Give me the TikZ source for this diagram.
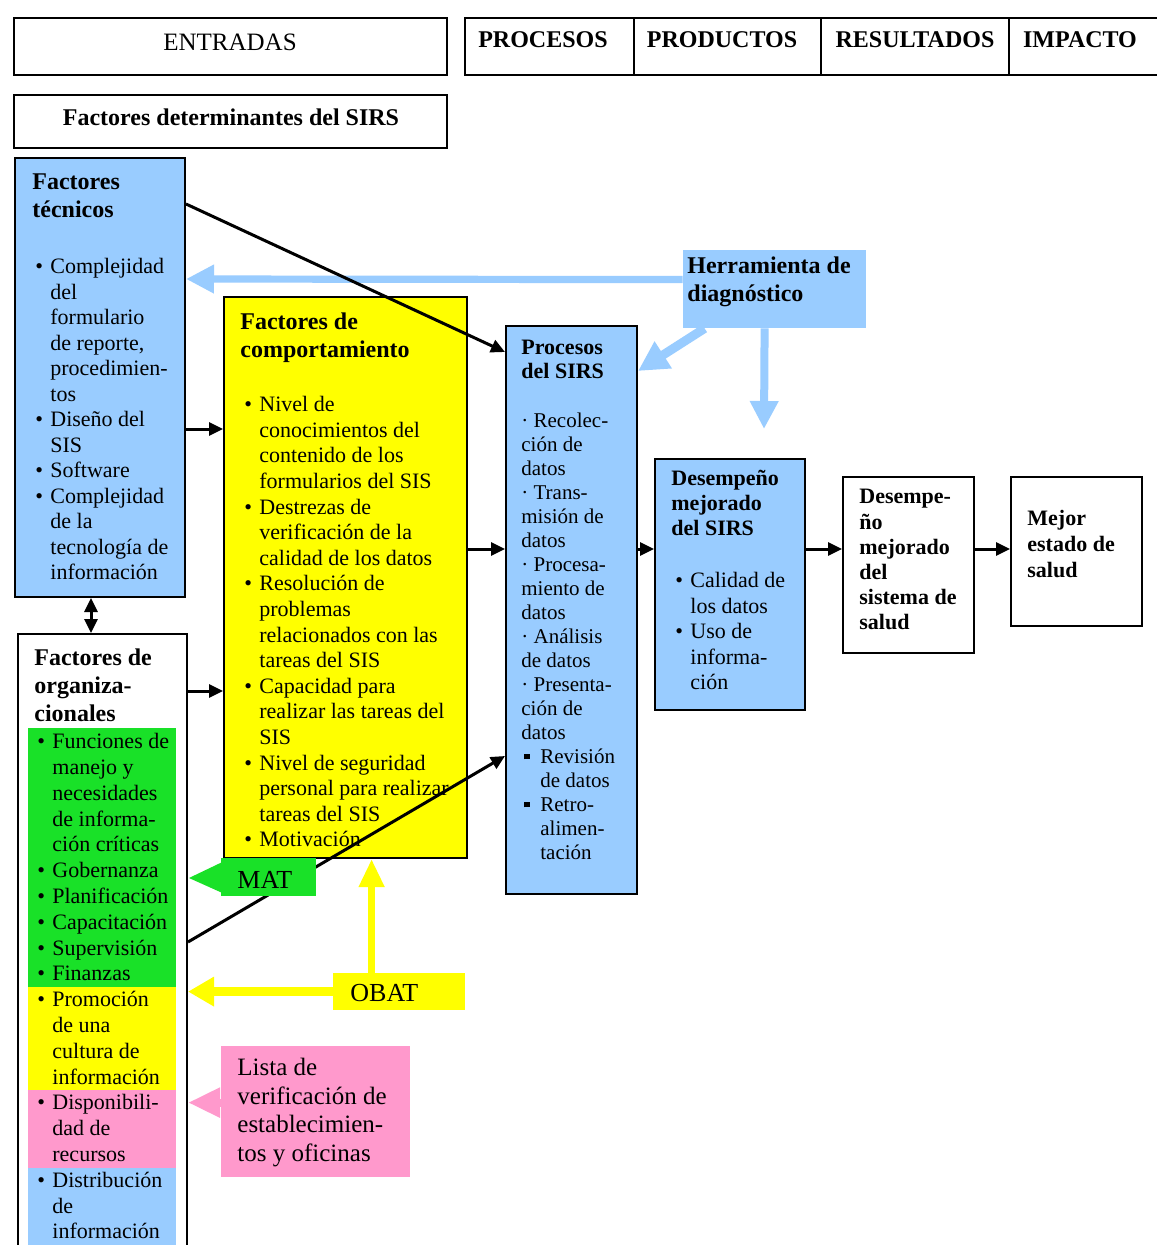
\documentclass[tikz,border=0pt]{standalone}
\usepackage{fontspec}
\setmainfont{Liberation Serif}
\usetikzlibrary{arrows.meta,fit,calc}
\definecolor{lblue}{HTML}{99CCFF}
\definecolor{vgreen}{RGB}{25,225,40}
\definecolor{vyellow}{HTML}{FFFF00}
\definecolor{vpink}{HTML}{FF99CC}
\newcommand\bl{\makebox[7.5pt][l]{\textbullet}}
\newcommand\ind{\hspace*{7.5pt}}
\newcommand\sqb{\hspace*{1.5pt}\makebox[8pt][l]{\raisebox{0.22em}{\rule{2.6pt}{2.6pt}}}}
\newcommand\sqind{\hspace*{9.5pt}}
\begin{document}
\begin{tikzpicture}[x=0.5pt,y=-0.5pt,
  box/.style={draw=black,line width=1pt,inner sep=0pt},
  flat/.style={draw=none,inner sep=0pt},
  txt/.style={anchor=north west,inner sep=0pt,align=left},
  hdr/.style={inner sep=0pt,font=\fontsize{12}{14}\selectfont\bfseries},
  ttl/.style={txt,font=\fontsize{12}{14}\selectfont\bfseries},
  ttls/.style={txt,font=\fontsize{11}{12.5}\selectfont\bfseries},
  body/.style={txt,font=\fontsize{11}{12.75}\selectfont},
  blk/.style={line width=1.5pt,-{Triangle[length=7pt,width=6.5pt]}},
  fat/.style={line width=3.6pt,-{Triangle[length=14pt,width=13.5pt]}},
]
\useasboundingbox (0,0) rectangle (1156,1245);
\fill[white] (0,0) rectangle (1156,1245);

% header row
\node[box,fit={(14,18) (447,75)}] (entr) {};
\node[hdr,font=\fontsize{12.5}{14}\selectfont] (entrT) at (230,42) {ENTRADAS};
\node[box,fit={(465,18) (634,75)}] (procH) {};
\node[box,fit={(634,18) (821,75)}] (prodH) {};
\node[box,fit={(821,18) (1009,75)}] (resH) {};
\node[box,fit={(1009,18) (1170,75)}] (impH) {};
\node[hdr] (procHT) at (543,40) {PROCESOS};
\node[hdr] (prodHT) at (722,40) {PRODUCTOS};
\node[hdr] (resHT) at (915,40) {RESULTADOS};
\node[hdr] (impHT) at (1080,40) {IMPACTO};

\node[box,fit={(14,95) (447,148)}] (det) {};
\node[hdr] (detT) at (231,117) {Factores determinantes del SIRS};

% Factores tecnicos
\node[box,fill=lblue,fit={(15,158) (185,597)}] (tec) {};
\node[ttl] (tecT) at (32,173) {Factores\\técnicos};
\node[body] (tecB) at (35,258) {\bl Complejidad\\
\ind del\\
\ind formulario\\
\ind de reporte,\\
\ind procedimien-\\
\ind tos\\
\bl Diseño del\\
\ind SIS\\
\bl Software\\
\bl Complejidad\\
\ind de la\\
\ind tecnología de\\
\ind información};

% Factores de comportamiento
\node[box,fill=vyellow,fit={(224,297) (467,858)}] (comp) {};
\node[ttl] (compT) at (240,312) {Factores de\\comportamiento};
\node[body,font=\fontsize{11}{12.8}\selectfont] (compB) at (244,396) {\bl Nivel de\\
\ind conocimientos del\\
\ind contenido de los\\
\ind formularios del SIS\\
\bl Destrezas de\\
\ind verificación de la\\
\ind calidad de los datos\\
\bl Resolución de\\
\ind problemas\\
\ind relacionados con las\\
\ind tareas del SIS\\
\bl Capacidad para\\
\ind realizar las tareas del\\
\ind SIS\\
\bl Nivel de seguridad\\
\ind personal para realizar\\
\ind tareas del SIS\\
\bl Motivación};

% Procesos del SIRS
\node[box,fill=lblue,fit={(506,326) (637,894)}] (proc) {};
\node[ttls,font=\fontsize{11}{12}\selectfont\bfseries] (procT) at (521,340) {Procesos\\del SIRS};
\node[body,font=\fontsize{10.5}{12}\selectfont] (procB) at (521,413) {· Recolec-\\
ción de\\
datos\\
· Trans-\\
misión de\\
datos\\
· Procesa-\\
miento de\\
datos\\
· Análisis\\
de datos\\
· Presenta-\\
ción de\\
datos\\
\sqb Revisión\\
\sqind de datos\\
\sqb Retro-\\
\sqind alimen-\\
\sqind tación};

% Desempeno mejorado del SIRS
\node[box,fill=lblue,fit={(655,459) (805,710)}] (desS) {};
\node[ttls] (desST) at (671,470) {Desempeño\\mejorado\\del SIRS};
\node[body] (desSB) at (675,572) {\bl Calidad de\\
\ind los datos\\
\bl Uso de\\
\ind informa-\\
\ind ción};

% Desempeno mejorado del sistema de salud
\node[box,fit={(843,477) (974,653)}] (desH) {};
\node[ttls,font=\fontsize{11}{12.6}\selectfont\bfseries] (desHT) at (859,489) {Desempe-\\ño\\mejorado\\del\\sistema de\\salud};

% Mejor estado de salud
\node[box,fit={(1011,477) (1142,626)}] (mej) {};
\node[ttls,font=\fontsize{11}{13}\selectfont\bfseries] (mejT) at (1027,510) {Mejor\\estado de\\salud};

% Herramienta de diagnostico
\node[flat,fill=lblue,fit={(683,250) (866,328)}] (herr) {};
\node[ttl] (herrT) at (687,256) {Herramienta de\\diagnóstico};

% Factores organizacionales
\node[box,fill=white,fit={(18,634) (187,1270)}] (org) {};
\node[flat,fill=vgreen,fit={(28,728) (176,987)}] (orgG) {};
\node[flat,fill=vyellow,fit={(28,987) (176,1090)}] (orgY) {};
\node[flat,fill=vpink,fit={(28,1090) (176,1168)}] (orgP) {};
\node[flat,fill=lblue,fit={(28,1168) (176,1262)}] (orgB) {};
\node[ttl] (orgT) at (34,648) {Factores de\\organiza-\\cionales};
\node[body,font=\fontsize{11}{12.9}\selectfont] (orgBd) at (37,733) {\bl Funciones de\\
\ind manejo y\\
\ind necesidades\\
\ind de informa-\\
\ind ción críticas\\
\bl Gobernanza\\
\bl Planificación\\
\bl Capacitación\\
\bl Supervisión\\
\bl Finanzas\\
\bl Promoción\\
\ind de una\\
\ind cultura de\\
\ind información\\
\bl Disponibili-\\
\ind dad de\\
\ind recursos\\
\bl Distribución\\
\ind de\\
\ind información};

% OBAT and Lista
\node[flat,fill=vyellow,fit={(333,973) (465,1010)}] (obat) {};
\node[anchor=west,inner sep=0pt,font=\fontsize{13}{15}\selectfont] (obatT) at (350,993) {OBAT};
\node[flat,fill=vpink,fit={(221,1046) (410,1177)}] (lista) {};
\node[txt,font=\fontsize{12.5}{14.3}\selectfont] (listaT) at (237,1058) {Lista de\\verificación de\\establecimien-\\tos y oficinas};

% light blue arrows
\draw[fat,lblue] ([yshift=-15pt]herr.north west) -- ([yshift=-61pt]tec.north east);
\draw[fat,lblue,line width=4.5pt,-{Triangle[length=15pt,width=15pt]}] ([xshift=11pt]herr.south west) -- ([yshift=-23pt]proc.north east);
\coordinate (hdown) at ([xshift=41pt]herr.south west);
\draw[fat,lblue,line width=4pt] (hdown) -- ([xshift=55pt,yshift=14.5pt]desS.north west);

% black arrows
\draw[blk] ([yshift=-23.5pt]tec.north east) -- ([yshift=-13.5pt]proc.north west);
\draw[blk] ([yshift=-136pt]tec.north east) -- ([yshift=-66.5pt]comp.north west);
\draw[blk] ([yshift=-29pt]org.north east) -- ([yshift=-197.5pt]comp.north west);
\draw[blk] ([yshift=-126.5pt]comp.north east) -- ([yshift=-112pt]proc.north west);
\draw[blk] ([yshift=-112pt]proc.north east) -- ([yshift=-45.5pt]desS.north west);
\draw[blk] ([yshift=-45.5pt]desS.north east) -- ([yshift=-36.5pt]desH.north west);
\draw[blk] ([yshift=-36.5pt]desH.north east) -- ([yshift=-36.5pt]mej.north west);
\draw[line width=1.5pt,{Triangle[length=7pt,width=6.5pt]}-{Triangle[length=7pt,width=6.5pt]}] ([xshift=-4.5pt]tec.south) -- ([xshift=-5.75pt]org.north);
\draw[blk] ([yshift=-154.5pt]org.north east) -- ([yshift=-215.5pt]proc.north west);

% MAT box (drawn over the black line)
\node[flat,fill=vgreen,fit={(221,858) (316,896)}] (mat) {};
\node[anchor=west,inner sep=0pt,font=\fontsize{13}{15}\selectfont] (matT) at (237,880) {MAT};
\draw[vgreen,line width=4pt,-{Triangle[length=17pt,width=14pt]}] ([yshift=-10pt]mat.north west) -- (org.east |- 0,878);

% yellow arrows
\coordinate (obup) at ([xshift=19.5pt]obat.north west);
\draw[vyellow,line width=3.6pt,-{Triangle[length=14pt,width=12pt]}] (obup) -- (comp.south -| obup);
\coordinate (obl) at ([yshift=-9.5pt]obat.north west);
\draw[vyellow,line width=4.5pt,-{Triangle[length=13pt,width=14pt]}] (obl) -- (org.east |- obl);

% pink arrow
\coordinate (lsl) at ([yshift=-28.5pt]lista.north west);
\draw[vpink,line width=4pt,-{Triangle[length=16pt,width=14pt]}] (lsl) -- (org.east |- lsl);
\end{tikzpicture}
\end{document}
